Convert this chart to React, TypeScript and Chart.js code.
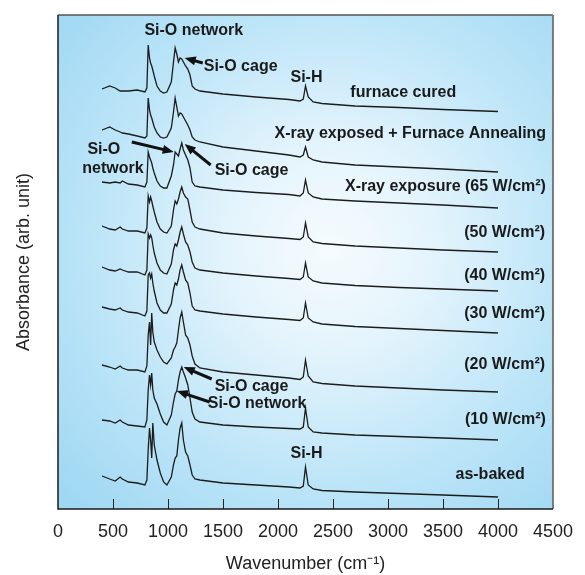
import React, { useEffect, useRef } from "react";
import { Chart, registerables } from "chart.js";

Chart.register(...registerables);

// Wavenumber grid (cm^-1) shared by all spectra
const WAVENUMBERS = [400, 470, 520, 565, 585, 640, 720, 790, 808, 820, 832, 842, 852, 862, 875, 900, 930, 960, 990, 1030, 1050, 1065, 1080, 1095, 1110, 1125, 1140, 1160, 1180, 1200, 1220, 1245, 1290, 1500, 1800, 2100, 2200, 2230, 2250, 2275, 2320, 2400, 2700, 3100, 3500, 4000];

// Absorbance (arb. unit, stacked with offsets as in the figure)
const FURNACE_CURED = [4.20, 4.23, 4.21, 4.18, 4.18, 4.18, 4.19, 4.17, 4.21, 4.64, 4.51, 4.46, 4.43, 4.39, 4.33, 4.23, 4.18, 4.16, 4.17, 4.27, 4.47, 4.61, 4.55, 4.47, 4.51, 4.50, 4.47, 4.43, 4.40, 4.34, 4.23, 4.20, 4.18, 4.15, 4.12, 4.095, 4.08, 4.10, 4.23, 4.12, 4.07, 4.055, 4.03, 4.015, 3.995, 3.975];
const XRAY_FURNACE = [3.79, 3.82, 3.79, 3.77, 3.76, 3.75, 3.73, 3.71, 3.73, 4.11, 3.99, 3.94, 3.91, 3.87, 3.82, 3.76, 3.72, 3.71, 3.72, 3.81, 3.97, 4.11, 4.02, 3.93, 3.96, 3.95, 3.92, 3.88, 3.84, 3.79, 3.72, 3.69, 3.67, 3.62, 3.58, 3.54, 3.52, 3.54, 3.62, 3.52, 3.49, 3.47, 3.44, 3.42, 3.40, 3.37];
const XRAY_65 = [3.27, 3.26, 3.27, 3.26, 3.28, 3.25, 3.24, 3.22, 3.27, 3.57, 3.52, 3.49, 3.46, 3.41, 3.36, 3.28, 3.23, 3.21, 3.21, 3.33, 3.44, 3.57, 3.55, 3.53, 3.60, 3.66, 3.59, 3.54, 3.49, 3.41, 3.27, 3.23, 3.22, 3.19, 3.165, 3.145, 3.13, 3.16, 3.29, 3.16, 3.12, 3.10, 3.08, 3.06, 3.04, 3.01];
const XRAY_50 = [2.83, 2.80, 2.79, 2.82, 2.80, 2.78, 2.78, 2.76, 2.81, 3.13, 3.07, 3.12, 3.08, 3.03, 2.97, 2.87, 2.80, 2.77, 2.76, 2.83, 2.99, 3.08, 3.05, 3.10, 3.17, 3.22, 3.16, 3.12, 3.10, 2.99, 2.87, 2.82, 2.80, 2.76, 2.73, 2.705, 2.695, 2.72, 2.86, 2.72, 2.67, 2.655, 2.63, 2.61, 2.59, 2.57];
const XRAY_40 = [2.42, 2.39, 2.38, 2.40, 2.39, 2.37, 2.37, 2.34, 2.39, 2.75, 2.71, 2.74, 2.71, 2.64, 2.56, 2.46, 2.39, 2.36, 2.35, 2.45, 2.59, 2.65, 2.63, 2.69, 2.77, 2.82, 2.75, 2.67, 2.64, 2.57, 2.47, 2.41, 2.39, 2.36, 2.33, 2.305, 2.295, 2.32, 2.46, 2.32, 2.28, 2.26, 2.235, 2.215, 2.20, 2.18];
const XRAY_30 = [2.02, 2.00, 1.99, 2.01, 1.99, 1.97, 1.96, 1.93, 1.98, 2.34, 2.36, 2.31, 2.35, 2.26, 2.18, 2.06, 1.99, 1.96, 1.96, 2.05, 2.19, 2.26, 2.24, 2.30, 2.39, 2.44, 2.37, 2.29, 2.26, 2.16, 2.03, 1.99, 1.98, 1.95, 1.92, 1.895, 1.885, 1.91, 2.06, 1.91, 1.87, 1.85, 1.825, 1.805, 1.785, 1.76];
const XRAY_20 = [1.44, 1.42, 1.40, 1.43, 1.41, 1.39, 1.39, 1.37, 1.43, 1.74, 1.87, 1.64, 1.96, 1.77, 1.67, 1.59, 1.52, 1.47, 1.45, 1.51, 1.59, 1.62, 1.66, 1.79, 1.91, 1.97, 1.87, 1.74, 1.71, 1.64, 1.53, 1.45, 1.41, 1.37, 1.34, 1.31, 1.295, 1.32, 1.49, 1.33, 1.27, 1.255, 1.23, 1.21, 1.19, 1.17];
const XRAY_10 = [0.89, 0.88, 0.86, 0.89, 0.87, 0.84, 0.83, 0.82, 0.89, 1.19, 1.34, 1.24, 1.36, 1.19, 1.11, 1.05, 0.95, 0.87, 0.84, 0.94, 1.07, 1.15, 1.18, 1.29, 1.37, 1.42, 1.37, 1.31, 1.24, 1.11, 0.97, 0.90, 0.87, 0.84, 0.82, 0.805, 0.80, 0.82, 1.01, 0.82, 0.77, 0.76, 0.74, 0.725, 0.71, 0.69];
const AS_BAKED = [0.33, 0.30, 0.28, 0.32, 0.30, 0.27, 0.26, 0.24, 0.29, 0.59, 0.81, 0.69, 0.51, 0.86, 0.64, 0.49, 0.36, 0.27, 0.24, 0.32, 0.44, 0.51, 0.53, 0.69, 0.81, 0.86, 0.69, 0.57, 0.53, 0.44, 0.34, 0.30, 0.29, 0.26, 0.24, 0.22, 0.21, 0.23, 0.42, 0.24, 0.20, 0.185, 0.17, 0.155, 0.14, 0.12];

const SERIES_NAMES = ["furnace cured", "X-ray exposed + Furnace Annealing", "X-ray exposure (65 W/cm²)", "(50 W/cm²)", "(40 W/cm²)", "(30 W/cm²)", "(20 W/cm²)", "(10 W/cm²)", "as-baked"];
const SERIES_VALUES = [FURNACE_CURED, XRAY_FURNACE, XRAY_65, XRAY_50, XRAY_40, XRAY_30, XRAY_20, XRAY_10, AS_BAKED];

const X_TICKS = [0, 500, 1000, 1500, 2000, 2500, 3000, 3500, 4000, 4500];

// Text annotations in data coordinates (wavenumber, absorbance)
const TEXTS = [
  { t: "Si-O network", x: 1234, y: 4.78, a: "center" },
  { t: "Si-O cage", x: 1325, y: 4.42, a: "left" },
  { t: "Si-H", x: 2259, y: 4.31, a: "center" },
  { t: "furnace cured", x: 3139, y: 4.16, a: "center" },
  { t: "X-ray exposed + Furnace Annealing", x: 3203, y: 3.75, a: "center" },
  { t: "Si-O", x: 417, y: 3.59, a: "center" },
  { t: "network", x: 499, y: 3.40, a: "center" },
  { t: "Si-O cage", x: 1424, y: 3.38, a: "left" },
  { t: "X-ray exposure (65 W/cm²)", x: 4436, y: 3.22, a: "right" },
  { t: "(50 W/cm²)", x: 4428, y: 2.76, a: "right" },
  { t: "(40 W/cm²)", x: 4428, y: 2.33, a: "right" },
  { t: "(30 W/cm²)", x: 4428, y: 1.95, a: "right" },
  { t: "(20 W/cm²)", x: 4428, y: 1.44, a: "right" },
  { t: "Si-O cage", x: 1424, y: 1.22, a: "left" },
  { t: "Si-O network", x: 1361, y: 1.05, a: "left" },
  { t: "(10 W/cm²)", x: 4436, y: 0.89, a: "right" },
  { t: "Si-H", x: 2259, y: 0.55, a: "center" },
  { t: "as-baked", x: 3929, y: 0.34, a: "center" },
];

// Arrows: tail (x1,y1) -> tip (x2,y2), data coordinates
const ARROWS = [
  { x1: 1316, y1: 4.46, x2: 1152, y2: 4.51 },
  { x1: 671, y1: 3.67, x2: 1052, y2: 3.57 },
  { x1: 1388, y1: 3.44, x2: 1152, y2: 3.65 },
  { x1: 1397, y1: 1.30, x2: 1143, y2: 1.42 },
  { x1: 1379, y1: 1.07, x2: 1080, y2: 1.18 },
];

const FONT = '"Liberation Sans", Arial, Helvetica, sans-serif';

function drawArrow(ctx: CanvasRenderingContext2D, x1: number, y1: number, x2: number, y2: number) {
  const ang = Math.atan2(y2 - y1, x2 - x1);
  const headLen = 11;
  const headW = 4.5;
  const bx = x2 - Math.cos(ang) * headLen;
  const by = y2 - Math.sin(ang) * headLen;
  ctx.save();
  ctx.strokeStyle = "#111";
  ctx.fillStyle = "#111";
  ctx.lineWidth = 3;
  ctx.lineCap = "butt";
  ctx.beginPath();
  ctx.moveTo(x1, y1);
  ctx.lineTo(bx + Math.cos(ang) * 2, by + Math.sin(ang) * 2);
  ctx.stroke();
  ctx.beginPath();
  ctx.moveTo(x2, y2);
  ctx.lineTo(bx - Math.sin(ang) * headW, by + Math.cos(ang) * headW);
  ctx.lineTo(bx + Math.sin(ang) * headW, by - Math.cos(ang) * headW);
  ctx.closePath();
  ctx.fill();
  ctx.restore();
}

const decorPlugin = {
  id: "decor",
  beforeDatasetsDraw(chart: any) {
    const { ctx, chartArea: a } = chart;
    const cx = a.left + (a.right - a.left) * 0.55;
    const cy = a.top + (a.bottom - a.top) * 0.47;
    const g = ctx.createRadialGradient(cx, cy, 0, cx, cy, 360);
    g.addColorStop(0, "#f6fbfe");
    g.addColorStop(0.28, "#e4f4fc");
    g.addColorStop(0.65, "#bde5f8");
    g.addColorStop(1, "#a0d8f3");
    ctx.save();
    ctx.fillStyle = g;
    ctx.fillRect(a.left, a.top, a.right - a.left, a.bottom - a.top);
    ctx.restore();
  },
  afterDatasetsDraw(chart: any) {
    const { ctx, chartArea: a, scales } = chart;
    const xs = scales.x;
    const ys = scales.y;
    // inside ticks
    ctx.save();
    ctx.strokeStyle = "#222";
    ctx.lineWidth = 1;
    X_TICKS.forEach((v) => {
      if (v <= 0 || v >= 4500) return;
      const px = Math.round(xs.getPixelForValue(v)) + 0.5;
      ctx.beginPath();
      ctx.moveTo(px, a.bottom);
      ctx.lineTo(px, a.bottom - 10);
      ctx.stroke();
    });
    // frame
    ctx.lineWidth = 1.5;
    ctx.strokeStyle = "#555";
    ctx.beginPath();
    ctx.moveTo(a.left, a.top);
    ctx.lineTo(a.right, a.top);
    ctx.stroke();
    ctx.strokeStyle = "#7a7a7a";
    ctx.lineWidth = 2;
    ctx.beginPath();
    ctx.moveTo(a.right, a.top);
    ctx.lineTo(a.right, a.bottom);
    ctx.stroke();
    ctx.strokeStyle = "#1a1a1a";
    ctx.lineWidth = 1.5;
    ctx.beginPath();
    ctx.moveTo(a.left, a.top);
    ctx.lineTo(a.left, a.bottom);
    ctx.lineTo(a.right, a.bottom);
    ctx.stroke();
    // texts
    ctx.fillStyle = "#1a1a1a";
    ctx.font = `bold 16px ${FONT}`;
    ctx.textBaseline = "middle";
    TEXTS.forEach((t) => {
      ctx.textAlign = t.a as CanvasTextAlign;
      ctx.fillText(t.t, xs.getPixelForValue(t.x), ys.getPixelForValue(t.y));
    });
    ctx.restore();
    ARROWS.forEach((r) =>
      drawArrow(ctx, xs.getPixelForValue(r.x1), ys.getPixelForValue(r.y1), xs.getPixelForValue(r.x2), ys.getPixelForValue(r.y2))
    );
  },
};

export default function App() {
  const ref = useRef<HTMLCanvasElement>(null);
  useEffect(() => {
    document.body.style.margin = "0";
    const datasets = SERIES_VALUES.map((vals, i) => ({
      label: SERIES_NAMES[i],
      data: WAVENUMBERS.map((w, j) => ({ x: w, y: vals[j] })),
      borderColor: "#1c1c1c",
      borderWidth: 1.3,
      pointRadius: 0,
      tension: 0,
      fill: false,
    }));
    const chart = new Chart(ref.current!, {
      type: "line",
      data: { datasets },
      options: {
        animation: false,
        responsive: false,
        layout: { padding: { top: 15, right: 31, left: 0, bottom: 0 } },
        plugins: { legend: { display: false }, tooltip: { enabled: false } },
        scales: {
          x: {
            type: "linear",
            min: 0,
            max: 4500,
            afterBuildTicks: (s: any) => {
              s.ticks = X_TICKS.map((v) => ({ value: v }));
            },
            afterFit: (s: any) => {
              s.height = 66;
            },
            ticks: {
              font: { family: FONT, size: 18 },
              color: "#222",
              padding: 12,
              maxRotation: 0,
              autoSkip: false,
              callback: (v: any) => String(v),
            },
            grid: { display: false, drawTicks: false },
            border: { display: false },
            title: {
              display: true,
              text: "Wavenumber (cm⁻¹)",
              font: { family: FONT, size: 18 },
              color: "#222",
              padding: { top: 0, bottom: 0 },
            },
          },
          y: {
            min: 0,
            max: 4.94,
            afterFit: (s: any) => {
              s.width = 58;
            },
            ticks: { display: false },
            grid: { display: false, drawTicks: false },
            border: { display: false },
            title: {
              display: true,
              text: "Absorbance (arb. unit)",
              font: { family: FONT, size: 18 },
              color: "#222",
              padding: { top: 13, bottom: 0 },
            },
          },
        },
      },
      plugins: [decorPlugin],
    });
    return () => chart.destroy();
  }, []);
  return (
    <div style={{ width: 585, height: 575 }}>
      <canvas ref={ref} width={585} height={575} />
    </div>
  );
}
